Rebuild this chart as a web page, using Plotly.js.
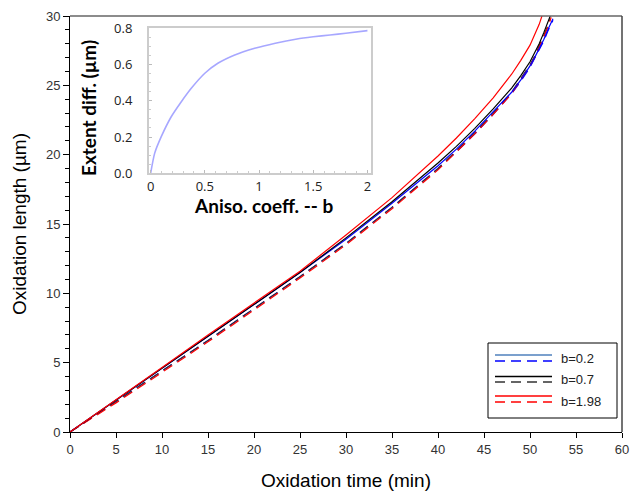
<!DOCTYPE html>
<html><head><meta charset="utf-8">
<script src="https://cdn.plot.ly/plotly-3.0.1.min.js"></script>
<style>html,body{margin:0;padding:0;background:#fff}#c{width:631px;height:495px}</style>
</head><body><div id="c"></div>
<script>
// ---- data ----
const tRedSolid   = [0,5,10,15,20,25,30,35,40,42,44,46,48,49,50,50.5,51,51.5];
const LRedSolid   = [0,2.3,4.65,7.0,9.3,11.6,14.2,16.9,19.9,21.2,22.6,24.1,25.8,26.8,27.9,28.6,29.4,30.4];
const tBlackSolid = [0,5,10,15,20,25,30,35,40,42,44,46,48,49,50,50.5,51,51.5,52,52.2];
const LBlackSolid = [0,2.3,4.6,6.9,9.2,11.5,14.0,16.6,19.4,20.6,21.9,23.3,24.8,25.7,26.7,27.3,28.0,28.8,29.6,30.0];
const tBlueSolid  = [0,5,10,15,20,25,30,35,40,42,44,46,48,49,50,50.5,51,51.5,52,52.5];
const LBlueSolid  = [0,2.3,4.6,6.9,9.2,11.5,13.9,16.5,19.2,20.4,21.7,23.1,24.5,25.4,26.4,27.0,27.6,28.3,29.1,29.8];
const tBlueDash   = [0,5,10,15,20,25,30,35,40,42,44,46,48,49,50,50.5,51,51.5,52,52.5];
const LBlueDash   = [0,2.2,4.4,6.6,8.9,11.2,13.6,16.2,19.0,20.2,21.5,22.9,24.4,25.3,26.3,26.9,27.5,28.2,29.0,29.7];
const tBlackDash  = [0,5,10,15,20,25,30,35,40,42,44,46,48,49,50,50.5,51,51.5,52,52.2];
const LBlackDash  = [0,2.2,4.4,6.6,8.9,11.2,13.6,16.2,19.0,20.3,21.6,23.0,24.5,25.5,26.5,27.1,27.8,28.6,29.4,29.8];
const tRedDash    = [0,5,10,15,20,25,30,35,40,42,44,46,48,49,50,50.5,51,51.5,52,52.3];
const LRedDash    = [0,2.1,4.3,6.5,8.8,11.1,13.5,16.1,18.9,20.2,21.5,22.9,24.4,25.4,26.4,27.0,27.7,28.5,29.3,29.9];
const bAniso      = [0,0.037,0.098,0.19,0.283,0.375,0.5,0.62,0.776,0.96,1.15,1.35,1.5,1.655,1.8,2.0];
const extentDiff  = [0,0.11,0.202,0.312,0.395,0.469,0.552,0.607,0.653,0.69,0.718,0.741,0.753,0.763,0.773,0.787];
const legendLabels = ['b=0.2','b=0.7','b=1.98'];
// ---- styles ----
const solidCols = ['#0000ff','#000000','#ff0000'];
const dashCols  = ['#0000ff','#333333','#ff0000'];
const legSolidCols = ['#4f81bd','#000000','#ff0000'];

const traces = [];
function add(x,y,color,dash){
  traces.push({x:x,y:y,type:'scatter',mode:'lines',xaxis:'x',yaxis:'y',
    line:{color:color,width:1.2,dash:dash},showlegend:false,hoverinfo:'skip'});
}
add(tBlueDash,LBlueDash,dashCols[0],'10px,6px');
add(tBlackDash,LBlackDash,dashCols[1],'10px,6px');
add(tRedDash,LRedDash,dashCols[2],'10px,6px');
add(tBlueSolid,LBlueSolid,solidCols[0],'solid');
add(tBlackSolid,LBlackSolid,solidCols[1],'solid');
add(tRedSolid,LRedSolid,solidCols[2],'solid');
traces.push({x:bAniso,y:extentDiff,type:'scatter',mode:'lines',xaxis:'x2',yaxis:'y2',
  line:{color:'rgba(130,130,255,0.7)',width:1.6,shape:'spline',smoothing:0.6},showlegend:false,hoverinfo:'skip'});

// pixel -> paper helpers (plot area 70..622 x 16..432)
const L0=70,R0=622,T0=16,B0=432;
const px = p => (p-L0)/(R0-L0);
const py = p => (B0-p)/(B0-T0);

const shapes = [
  {type:'line',xref:'paper',yref:'paper',x0:0,x1:1,y0:1,y1:1,line:{color:'#666',width:1.5}},
  {type:'line',xref:'paper',yref:'paper',x0:1,x1:1,y0:0,y1:1,line:{color:'#444',width:1.5}},
  {type:'rect',xref:'paper',yref:'paper',x0:px(488),x1:px(617),y0:py(418),y1:py(343),line:{color:'#000',width:1},fillcolor:'#fff'}
];
const annotations = [];
const legSolidY=[355,376.5,396], legDashY=[361,382,402], legTextY=[358,379.5,401];
for(let i=0;i<3;i++){
  shapes.push({type:'line',xref:'paper',yref:'paper',x0:px(495),x1:px(552),y0:py(legSolidY[i]),y1:py(legSolidY[i]),line:{color:legSolidCols[i],width:1.5}});
  shapes.push({type:'line',xref:'paper',yref:'paper',x0:px(495),x1:px(552),y0:py(legDashY[i]),y1:py(legDashY[i]),line:{color:dashCols[i],width:1.5,dash:'10px,6px'}});
  annotations.push({xref:'paper',yref:'paper',x:px(559),y:py(legTextY[i]),xanchor:'left',yanchor:'middle',showarrow:false,
    text:legendLabels[i],font:{family:'Liberation Sans, Arial, sans-serif',size:13,color:'#222'}});
}
const insetTitle = {family:'Lato, Open Sans, sans-serif',size:19,color:'#000',weight:'bold'};
annotations.push({xref:'paper',yref:'paper',x:px(264),y:py(205),xanchor:'center',yanchor:'middle',showarrow:false,
  text:'Aniso. coeff. -- b',font:insetTitle});
annotations.push({xref:'paper',yref:'paper',x:px(88.5),y:py(108.5),xanchor:'center',yanchor:'middle',showarrow:false,
  textangle:-90,text:'Extent diff. (µm)',font:insetTitle});

const tickFont = {family:'Liberation Sans, Arial, sans-serif',size:13,color:'#333'};
const titleFont = {family:'Liberation Sans, Arial, sans-serif',size:19,color:'#000'};
const insetTick = {family:'Open Sans, sans-serif',size:13,color:'#222'};
const layout = {
  width:631,height:495,
  margin:{l:70,r:9,t:16,b:63},
  paper_bgcolor:'#fff',plot_bgcolor:'#fff',
  showlegend:false,
  xaxis:{domain:[0,1],range:[0,60],dtick:5,tick0:0,ticks:'outside',ticklen:5,tickcolor:'#000',
    showline:true,linecolor:'#000',linewidth:1,showgrid:false,zeroline:false,tickfont:tickFont,
    ticklabeloverflow:'allow',
    title:{text:'Oxidation time (min)',font:titleFont,standoff:18}},
  yaxis:{domain:[0,1],range:[0,30],dtick:5,tick0:0,ticks:'outside',ticklen:6,tickcolor:'#000',
    minor:{dtick:1,ticks:'outside',ticklen:4,tickcolor:'#000'},
    showline:true,linecolor:'#000',linewidth:1,showgrid:false,zeroline:false,tickfont:tickFont,
    ticklabeloverflow:'allow',
    title:{text:'Oxidation length (µm)',font:titleFont,standoff:14}},
  xaxis2:{domain:[px(149),px(370.7)],anchor:'y2',range:[-0.015,2.03],dtick:0.5,tick0:0,
    ticks:'inside',ticklen:3,tickcolor:'#bbb',showline:true,mirror:true,linecolor:'#ccc',linewidth:2,
    minor:{dtick:0.1,ticks:'inside',ticklen:2,tickcolor:'#ccc'},
    showgrid:false,zeroline:false,tickfont:insetTick,ticklabelstandoff:0},
  yaxis2:{domain:[py(173.3),py(28.3)],anchor:'x2',range:[0,0.8],dtick:0.2,tick0:0,tickformat:'.1f',
    ticks:'inside',ticklen:3,tickcolor:'#bbb',showline:true,mirror:true,linecolor:'#ccc',linewidth:2,
    minor:{dtick:0.05,ticks:'inside',ticklen:2,tickcolor:'#ccc'},
    showgrid:false,zeroline:false,tickfont:insetTick,ticklabelstandoff:12},
  shapes:shapes,annotations:annotations
};
Plotly.newPlot('c',traces,layout,{displayModeBar:false,staticPlot:true});
</script></body></html>
